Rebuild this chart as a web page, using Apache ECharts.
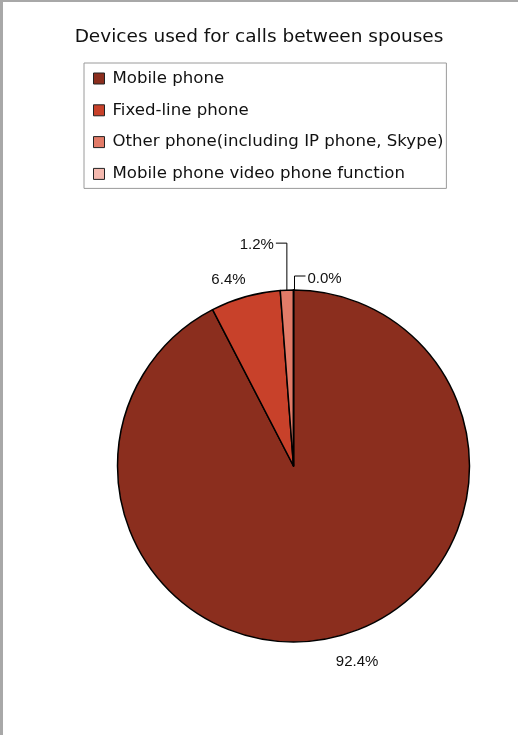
<!DOCTYPE html>
<html>
<head>
<meta charset="utf-8">
<script src="https://cdn.jsdelivr.net/npm/echarts@6/dist/echarts.min.js"></script>
<style>
  html, body { margin: 0; padding: 0; background: #fff; }
  #chart { width: 518px; height: 735px; }
</style>
</head>
<body>
<div id="chart"></div>
<script>
// Share of devices used for calls between spouses (%)
const categories = [
  'Mobile phone',
  'Fixed-line phone',
  'Other phone(including IP phone, Skype)',
  'Mobile phone video phone function'
];
const shares = [92.4, 6.4, 1.2, 0.0];
const sliceColors = ['#8B2E1E', '#C8412A', '#E27B68', '#F4B9AF'];

const chart = echarts.init(document.getElementById('chart'), null, { renderer: 'canvas' });

const labelFont = 'Liberation Sans, Arial, sans-serif';
const textFont = '"DejaVu Sans", sans-serif';

// Label placement relative to each slice's outer edge point
function placeLabel(params) {
  const pts = params.labelLinePoints;
  if (!pts) return {};
  const p = pts[0];
  const i = params.dataIndex;
  if (i === 0) {
    return { x: p[0] + 22, y: p[1] + 25, align: 'center', verticalAlign: 'middle',
             labelLinePoints: [p, p, p] };
  }
  if (i === 1) {
    return { x: p[0] - 17, y: p[1] - 17, align: 'center', verticalAlign: 'middle',
             labelLinePoints: [p, p, p] };
  }
  if (i === 2) {
    const top = p[1] - 47;
    return { x: p[0] - 13, y: top + 2, align: 'right', verticalAlign: 'middle',
             labelLinePoints: [[p[0], p[1]], [p[0], top], [p[0] - 11, top]] };
  }
  const top = p[1] - 14;
  return { x: p[0] + 14, y: top + 3, align: 'left', verticalAlign: 'middle',
           labelLinePoints: [[p[0] + 1, p[1]], [p[0] + 1, top], [p[0] + 12, top]] };
}

chart.setOption({
  animation: false,
  backgroundColor: '#fff',
  title: {
    text: 'Devices used for calls between spouses',
    left: 'center',
    top: 23,
    textStyle: { fontFamily: textFont, fontSize: 18.5, fontWeight: 'normal', color: '#111' }
  },
  legend: {
    orient: 'vertical',
    left: 84,
    top: 63,
    padding: [7, 3, 6, 9],
    itemGap: 14.8,
    itemWidth: 11,
    itemHeight: 11,
    icon: 'rect',
    borderColor: '#9a9a9a',
    borderWidth: 1,
    selectedMode: false,
    itemStyle: { borderColor: '#222', borderWidth: 1 },
    textStyle: { fontFamily: textFont, fontSize: 16.6, color: '#111', lineHeight: 16, padding: [0, 0, 0, 3] },
    data: categories
  },
  graphic: [
    { type: 'rect', silent: true, shape: { x: 0, y: 0, width: 3, height: 735 }, style: { fill: '#a8a8a8' } },
    { type: 'rect', silent: true, shape: { x: 0, y: 0, width: 518, height: 2 }, style: { fill: '#a8a8a8' } }
  ],
  series: [{
    type: 'pie',
    center: [293.5, 466],
    radius: 176,
    startAngle: 90,
    clockwise: true,
    minShowLabelAngle: 0,
    avoidLabelOverlap: false,
    itemStyle: { borderColor: '#000', borderWidth: 1.5 },
    emphasis: { disabled: true },
    label: {
      show: true,
      position: 'outside',
      formatter: p => p.value.toFixed(1) + '%',
      fontFamily: labelFont,
      fontSize: 15,
      color: '#111'
    },
    labelLine: { show: true, length: 10, length2: 10, lineStyle: { color: '#000', width: 1 } },
    labelLayout: placeLabel,
    data: categories.map((name, i) => ({
      name,
      value: shares[i],
      itemStyle: { color: sliceColors[i] },
      labelLine: (i < 2) ? { lineStyle: { opacity: 0 } } : undefined
    }))
  }]
});
</script>
</body>
</html>
